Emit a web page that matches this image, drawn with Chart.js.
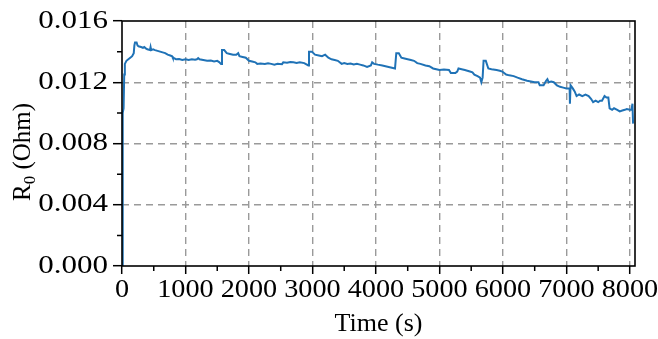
<!DOCTYPE html>
<html><head><meta charset="utf-8">
<script src="https://cdn.jsdelivr.net/npm/chart.js@4.4.0/dist/chart.umd.min.js"></script>
<style>html,body{margin:0;padding:0;background:#fff;} #wrap{width:658px;height:339px;position:relative;}</style>
</head><body><div id="wrap"><canvas id="c"></canvas></div>
<script>
// ---- data ----
const timeS = [0,8,15,25,35,45,70,100,130,160,185,195,205,230,245,260,300,330,350,380,400,440,450,460,490,520,560,600,640,680,720,760,790,800,830,850,900,950,1000,1050,1100,1150,1180,1200,1220,1280,1340,1400,1450,1500,1530,1560,1575,1610,1650,1700,1750,1800,1830,1850,1900,1950,2000,2050,2100,2130,2180,2250,2300,2350,2400,2450,2520,2540,2600,2650,2700,2750,2800,2870,2935,2945,2990,3040,3100,3150,3200,3250,3300,3350,3400,3460,3500,3550,3600,3650,3700,3750,3800,3860,3920,3940,3970,4030,4100,4150,4200,4250,4300,4320,4360,4400,4450,4500,4550,4600,4650,4700,4780,4840,4900,4950,5000,5070,5150,5180,5250,5280,5300,5350,5400,5480,5520,5550,5600,5640,5660,5680,5695,5730,5770,5820,5900,5950,5990,6050,6100,6170,6230,6300,6380,6440,6500,6560,6580,6640,6680,6700,6720,6760,6800,6850,6900,6950,7000,7050,7055,7065,7100,7130,7160,7200,7250,7300,7350,7390,7420,7460,7500,7530,7560,7600,7630,7660,7680,7720,7750,7800,7840,7880,7920,7950,8000,8025,8040,8050];
const r0Ohm = [0.0000,0.0060,0.0100,0.0103,0.0125,0.0132,0.0134,0.0135,0.0136,0.0137,0.0139,0.0144,0.0146,0.0146,0.0144,0.01435,0.0143,0.01425,0.0143,0.0142,0.01415,0.0141,0.0143,0.0141,0.01415,0.0141,0.01405,0.0140,0.01395,0.0139,0.0138,0.01375,0.0137,0.0136,0.01355,0.0135,0.01352,0.01346,0.0135,0.01346,0.0135,0.01347,0.0135,0.01358,0.0135,0.01345,0.0134,0.01342,0.01336,0.0134,0.01332,0.0132,0.0141,0.0141,0.0139,0.01385,0.0138,0.0138,0.0139,0.0137,0.01365,0.0136,0.0134,0.01335,0.0133,0.0132,0.01322,0.0132,0.01324,0.0132,0.01315,0.0132,0.01318,0.0133,0.01328,0.01332,0.0133,0.01326,0.0133,0.01325,0.0131,0.0140,0.0140,0.0138,0.01375,0.0137,0.0138,0.0136,0.0135,0.01345,0.0134,0.0132,0.01325,0.0132,0.01322,0.01316,0.0132,0.01315,0.0131,0.0130,0.0131,0.0133,0.0132,0.01315,0.0131,0.01305,0.0130,0.01295,0.0129,0.0139,0.0139,0.0136,0.01355,0.0135,0.01345,0.0134,0.01325,0.0132,0.0131,0.01305,0.0129,0.01285,0.0128,0.01283,0.0128,0.0126,0.0126,0.0127,0.0129,0.01285,0.0128,0.0127,0.01265,0.0125,0.0124,0.0123,0.0120,0.0123,0.0134,0.0134,0.0129,0.01285,0.0128,0.01275,0.0127,0.0125,0.01245,0.0124,0.0123,0.0122,0.0121,0.01205,0.0120,0.0120,0.0118,0.0118,0.0121,0.0122,0.0120,0.01205,0.0120,0.0118,0.0117,0.01165,0.0116,0.0116,0.0106,0.0118,0.0116,0.0114,0.0111,0.0112,0.0111,0.0112,0.0111,0.0109,0.0107,0.0108,0.0107,0.0108,0.0108,0.0111,0.0110,0.0110,0.0103,0.0102,0.0103,0.0102,0.0101,0.01015,0.0102,0.01025,0.0102,0.0102,0.0106,0.0093];
const xTicks = [0,1000,2000,3000,4000,5000,6000,7000,8000];
const xMinorTicks = [500,1500,2500,3500,4500,5500,6500,7500];
const yTicks = [0,0.004,0.008,0.012,0.016];
const yMinorTicks = [0.002,0.006,0.010,0.014];
const xTitle = 'Time (s)';
const yTitleMain = 'R', yTitleSub = '0', yTitleRest = ' (Ohm)';

const FONT = '"Liberation Serif", "Times New Roman", serif';

// the reference's tick labels are horizontally wider than the font; widen them a little
let stretchOn = false;
const stretchPlugin = {
  id: 'stretch',
  beforeInit(chart) {
    const ctx = chart.ctx;
    const orig = ctx.fillText;
    ctx.fillText = function (t, x, y, mw) {
      if (!stretchOn) return orig.call(this, t, x, y, mw);
      const sx = this.textAlign === 'right' ? 1.24 : 1.13;
      this.save();
      this.translate(x, y);
      this.scale(sx, 1);
      orig.call(this, t, 0, 0);
      this.restore();
    };
  },
  beforeDraw() { stretchOn = true; },
  beforeDatasetsDraw() { stretchOn = false; },
  afterDraw() { stretchOn = false; }
};

const framePlugin = {
  id: 'frame',
  afterDraw(chart) {
    const {ctx, chartArea: a, scales} = chart;
    ctx.save();
    // minor ticks
    ctx.strokeStyle = '#000'; ctx.lineWidth = 1.5;
    ctx.beginPath();
    xMinorTicks.forEach(v => { const p = scales.x.getPixelForValue(v); ctx.moveTo(p, a.bottom); ctx.lineTo(p, a.bottom + 5); });
    yMinorTicks.forEach(v => { const p = scales.y.getPixelForValue(v); ctx.moveTo(a.left, p); ctx.lineTo(a.left - 5, p); });
    ctx.stroke();
    // box
    ctx.lineWidth = 1.6;
    ctx.strokeRect(a.left, a.top, a.right - a.left, a.bottom - a.top);
    // x title
    ctx.fillStyle = '#000';
    ctx.font = '26px ' + FONT;
    ctx.textAlign = 'center'; ctx.textBaseline = 'alphabetic';
    ctx.fillText(xTitle, (a.left + a.right) / 2, 331);
    // y title with subscript
    ctx.translate(30, 152);
    ctx.rotate(-Math.PI / 2);
    ctx.textAlign = 'left';
    ctx.font = '25px ' + FONT; const w1 = ctx.measureText(yTitleMain).width;
    ctx.font = '17px ' + FONT; const w2 = ctx.measureText(yTitleSub).width;
    ctx.font = '25px ' + FONT; const w3 = ctx.measureText(yTitleRest).width;
    let x0 = -(w1 + w2 + w3) / 2;
    ctx.font = '25px ' + FONT; ctx.fillText(yTitleMain, x0, 0);
    ctx.font = '17px ' + FONT; ctx.fillText(yTitleSub, x0 + w1, 5);
    ctx.font = '25px ' + FONT; ctx.fillText(yTitleRest, x0 + w1 + w2, 0);
    ctx.restore();
  }
};

const gridColor = (c) => {
  const v = c.tick ? c.tick.value : null;
  if (v === null) return 'transparent';
  if (Math.abs(v) < 1e-12) return 'transparent';
  if (c.scale.axis === 'y' && Math.abs(v - 0.016) < 1e-9) return 'transparent';
  return '#9a9a9a';
};

new Chart(document.getElementById('c'), {
  type: 'scatter',
  data: {
    datasets: [{
      data: timeS.map((t, i) => ({x: t, y: r0Ohm[i]})),
      showLine: true,
      borderColor: '#1f72b6',
      borderWidth: 2,
      pointRadius: 0,
      tension: 0
    }]
  },
  plugins: [stretchPlugin, framePlugin],
  options: {
    responsive: true,
    maintainAspectRatio: false,
    animation: false,
    layout: {padding: {top: 21, right: 23, left: 0, bottom: 0}},
    plugins: {legend: {display: false}, tooltip: {enabled: false}},
    scales: {
      x: {
        type: 'linear', min: 0, max: 8080,
        afterBuildTicks: s => { s.ticks = xTicks.map(v => ({value: v})); },
        afterFit: s => { s.height = 73; },
        ticks: {color: '#000', font: {family: FONT, size: 25}, padding: 1, maxRotation: 0, autoSkip: false, callback: v => String(v)},
        grid: {color: gridColor, lineWidth: 1.4, tickLength: 8, tickWidth: 1.5, tickColor: '#000'},
        border: {display: false, dash: [7, 5]}
      },
      y: {
        type: 'linear', min: 0, max: 0.016,
        afterBuildTicks: s => { s.ticks = yTicks.map(v => ({value: v})); },
        afterFit: s => { s.width = 122; },
        ticks: {color: '#000', font: {family: FONT, size: 25}, padding: 5, autoSkip: false, callback: v => Number(v).toFixed(3)},
        grid: {color: gridColor, lineWidth: 1.4, tickLength: 9, tickWidth: 1.5, tickColor: '#000'},
        border: {display: false, dash: [7, 5]}
      }
    }
  }
});
</script>
</body></html>
